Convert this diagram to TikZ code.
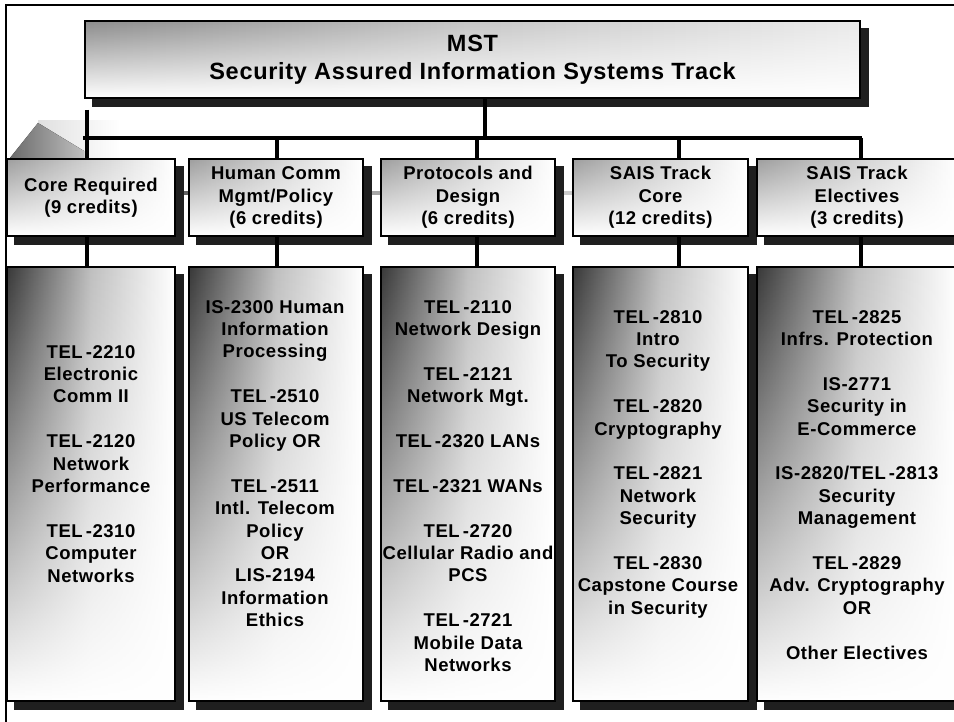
\documentclass[tikz,border=0pt]{standalone}
\usepackage{fontspec}
\setmainfont{Liberation Sans}[LetterSpace=3]
\usetikzlibrary{fadings,backgrounds,calc}

% white veil that gets stronger towards the bottom of a box
\tikzfading[name=veilsoft, top color=transparent!100, bottom color=transparent!0]
\tikzfading[name=veilbody, top color=transparent!100, middle color=transparent!60, bottom color=transparent!0]

\tikzset{
  box/.style={draw=black, line width=2bp, rectangle, inner sep=0pt, align=center,
    font=\bfseries\fontsize{18.5bp}{22.4bp}\selectfont},
  veil/.style={path picture={\fill[white, path fading=#1]
      (path picture bounding box.south west) rectangle (path picture bounding box.north east);}},
  titlebox/.style={box, minimum width=775bp, minimum height=77bp,
    left color=black!45, right color=black!8, middle color=black!22, veil=veilsoft,
    font=\bfseries\fontsize{23.5bp}{28bp}\selectfont},
  headbox/.style={box, minimum height=77bp,
    left color=black!38, right color=white, middle color=black!18, veil=veilsoft},
  bodybox/.style={box, minimum height=434bp,
    left color=black!78, right color=white, middle color=black!25, veil=veilbody},
  bodytext/.style={inner sep=0pt, anchor=north, align=center,
    font=\bfseries\fontsize{18.5bp}{22.4bp}\selectfont},
  link/.style={line width=3.2bp},
  frameline/.style={line width=2bp},
  shadowfill/.style={fill=black!88},
  sidebar/.style={line width=4.5bp},
}

\begin{document}
\begin{tikzpicture}[x=1bp, y=1bp]
\useasboundingbox (0,0) rectangle (954,-722);

% title
\node[titlebox] (title) at (472.5,-59.5) {MST\\Security Assured Information Systems Track};

% category headers
\node[headbox, minimum width=168bp] (h1) at (91,-197.5) {Core Required\\(9 credits)};
\node[headbox, minimum width=174bp] (h2) at (276,-197.5) {Human Comm\\Mgmt/Policy\\(6 credits)};
\node[headbox, minimum width=174bp] (h3) at (468,-197.5) {Protocols and\\Design\\(6 credits)};
\node[headbox, minimum width=175bp] (h4) at (660.5,-197.5) {SAIS Track\\Core\\(12 credits)};
\node[headbox, minimum width=200bp] (h5) at (857,-197.5) {SAIS Track\\Electives\\(3 credits)};

% course columns
\node[bodybox, minimum width=168bp] (b1) at (91,-484) {};
\node[bodybox, minimum width=174bp] (b2) at (276,-484) {};
\node[bodybox, minimum width=174bp] (b3) at (468,-484) {};
\node[bodybox, minimum width=175bp] (b4) at (660.5,-484) {};
\node[bodybox, minimum width=200bp] (b5) at (857,-484) {};

\node[bodytext] (c1) at (91,-345) {TEL\,-2210\\Electronic\\Comm II\\[22.4bp]TEL\,-2120\\Network\\Performance\\[22.4bp]TEL\,-2310\\Computer\\Networks};
\node[bodytext] (c2) at (275,-300) {IS-2300 Human\\Information\\Processing\\[22.4bp]TEL\,-2510\\US Telecom\\Policy OR\\[22.4bp]TEL\,-2511\\Intl. Telecom\\Policy\\OR\\LIS-2194\\Information\\Ethics};
\node[bodytext] (c3) at (468,-300) {TEL\,-2110\\Network Design\\[22.4bp]TEL\,-2121\\Network Mgt.\\[22.4bp]TEL\,-2320 LANs\\[22.4bp]TEL\,-2321 WANs\\[22.4bp]TEL\,-2720\\Cellular Radio and\\PCS\\[22.4bp]TEL\,-2721\\Mobile Data\\Networks};
\node[bodytext] (c4) at (658,-310) {TEL\,-2810\\Intro\\To Security\\[22.4bp]TEL\,-2820\\Cryptography\\[22.4bp]TEL\,-2821\\Network\\Security\\[22.4bp]TEL\,-2830\\Capstone Course\\in Security};
\node[bodytext] (c5) at (857,-310) {TEL\,-2825\\Infrs. Protection\\[22.4bp]IS-2771\\Security in\\E-Commerce\\[22.4bp]IS-2820/TEL\,-2813\\Security\\Management\\[22.4bp]TEL\,-2829\\Adv. Cryptography\\OR\\[22.4bp]Other Electives};

\begin{scope}[on background layer]
  % page frame
  \draw[frameline] (6,-722) -- (6,-5) -- (954,-5);
  % grey bevel at the left end of the bus
  \fill[black!12, path fading=east] (38,-120) rectangle (120,-158);
  \fill[left color=black!58, right color=black!25] (38,-123) -- (84,-151) -- (84,-158) -- (10,-158) -- cycle;
  % grey bars joining the headers
  \draw[sidebar, black!62] ($(h1.east)+(0,4.5)$) -- ($(h2.west)+(0,4.5)$);
  \draw[sidebar, black!35] ($(h2.east)+(0,4.5)$) -- ($(h3.west)+(0,4.5)$);
  \draw[sidebar, black!20] ($(h3.east)+(0,4.5)$) -- ($(h4.west)+(0,4.5)$);
  % drop shadows
  \foreach \n in {title,h1,h2,h3,h4,h5,b1,b2,b3,b4,b5}
    \fill[shadowfill] ($(\n.south west)+(8,-8)$) rectangle ($(\n.north east)+(8,-8)$);
\end{scope}

% bus and connectors
\coordinate (busL) at (83,-138);
\coordinate (busR) at (862,-138);
\coordinate (top) at (485,-138);
\coordinate (stub) at (87,-110);
\coordinate (d1) at (87,-138);
\coordinate (d2) at (277,-138);
\coordinate (d3) at (477,-138);
\coordinate (d4) at (679,-138);
\coordinate (d5) at (861,-138);

\draw[link] (top |- title.south) -- (top);
\draw[link] (busL) -- (busR);
\draw[link] (stub) -- (d1 |- h1.north);
\foreach \i in {2,3,4,5}
  \draw[link] (d\i) -- (d\i |- h\i.north);
\foreach \i in {1,2,3,4,5}
  \draw[link] (d\i |- h\i.south) -- (d\i |- b\i.north);
\end{tikzpicture}
\end{document}
